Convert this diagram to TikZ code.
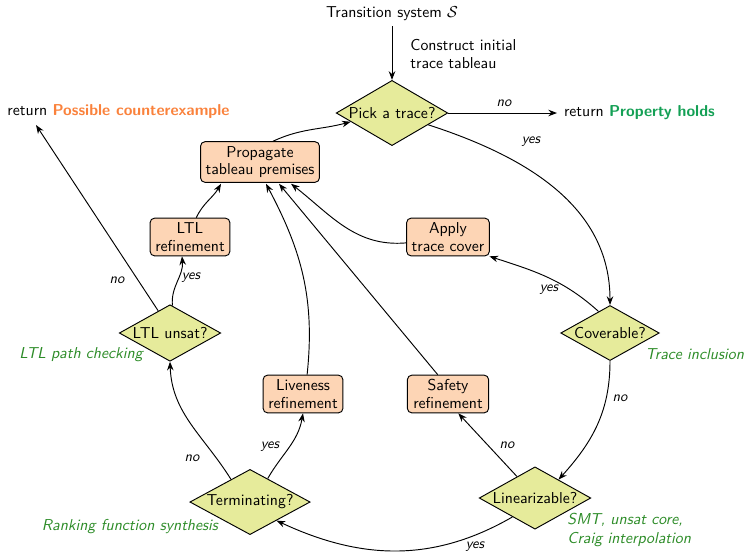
\documentclass[tikz,border=0pt]{standalone}
\usetikzlibrary{shapes.geometric,arrows.meta,calc}
\definecolor{peach}{RGB}{253,213,181}
\definecolor{lime}{RGB}{230,235,155}
\definecolor{holdgreen}{RGB}{20,160,85}
\definecolor{cexorange}{RGB}{250,130,60}
\definecolor{notegreen}{RGB}{45,140,40}
\begin{document}
\begin{tikzpicture}[x=0.69pt,y=0.69pt,
  font=\sffamily\fontsize{10.9}{12}\selectfont,
  >={Stealth[length=6pt,width=4.5pt]},
  every path/.style={line width=0.65pt},
  box/.style={draw,fill=peach,rounded corners=3pt,align=center,inner sep=1pt,line width=0.65pt},
  decision/.style={draw,fill=lime,diamond,aspect=1.8,inner sep=0pt,line width=0.65pt},
  lab/.style={font=\sffamily\fontsize{10}{12}\selectfont\itshape},
  note/.style={font=\sffamily\fontsize{10.9}{13}\selectfont\itshape,text=notegreen},
  conn/.style={->,line width=0.65pt}]
\useasboundingbox (0,0) rectangle (744,-553);

% nodes
\node (ts) at (392,-14) {Transition system $\mathcal{S}$};
\node[anchor=west,align=left,inner sep=0pt] (cons) at (410,-54) {Construct initial\\trace tableau};
\node[decision,minimum width=77pt,minimum height=45pt] (pick) at (392,-113) {Pick a trace?};
\node[anchor=west,inner sep=4.5pt] (hold) at (557,-113) {return \textcolor{holdgreen}{\bfseries Property holds}};
\node[anchor=west,inner sep=0pt] (cex) at (7,-112) {return \textcolor{cexorange}{\bfseries Possible counterexample}};
\coordinate (cexend) at (36,-125);

\node[box,minimum width=82pt,minimum height=28pt] (prop) at (260,-162) {Propagate\\tableau premises};
\node[box,minimum width=55pt,minimum height=26pt] (ltlr) at (190,-237) {LTL\\refinement};
\node[box,minimum width=57pt,minimum height=26pt] (apply) at (448,-237) {Apply\\trace cover};
\node[box,minimum width=55pt,minimum height=26pt] (liv) at (303,-394) {Liveness\\refinement};
\node[box,minimum width=56pt,minimum height=26pt] (safe) at (448,-394) {Safety\\refinement};

\node[decision,minimum width=70pt,minimum height=39pt] (lu) at (170,-333) {LTL unsat?};
\node[decision,minimum width=68pt,minimum height=38pt] (cov) at (610,-333) {Coverable?};
\node[decision,minimum width=83pt,minimum height=45pt] (term) at (250,-502) {Terminating?};
\node[decision,minimum width=77pt,minimum height=43pt] (lin) at (535,-498) {Linearizable?};

\node[note] (n1) at (81,-355) {LTL path checking};
\node[note] (n2) at (130,-527) {Ranking function synthesis};
\node[note,anchor=west,inner sep=0pt] (n3) at (645,-354) {Trace inclusion};
\node[note,anchor=west,align=left,inner sep=0pt] (n4) at (567,-530) {SMT, unsat core,\\Craig interpolation};

% connectors
\draw[conn] (ts) -- (pick.north);
\draw[conn] (pick.east) -- (hold.west);
\node[lab] (l1) at (504,-103) {no};

\draw[conn] (prop.58) to[out=25,in=195] (pick.192);
\draw[conn] (pick.-18) to[out=-18,in=90] (cov.north);
\node[lab] (l2) at (531,-142) {yes};

\draw[conn] (ltlr.72) to[out=65,in=240] ($(prop.south)+(-39,-1)$);
\draw[conn] (lu.85) to[out=95,in=-85] ($(ltlr.south)+(-8,0)$);
\node[lab] (l3) at (191,-278) {yes};
\draw[conn] (lu.118) -- (cexend);
\node[lab] (l4) at (117,-280) {no};

\draw[conn] (liv.78) to[out=84,in=-62] ($(prop.south)+(6,-1)$);
\draw[conn] (safe.118) -- ($(prop.south)+(19,-1)$);
\draw[conn] (apply.188) to[out=185,in=-38] ($(prop.south)+(31,-1)$);

\draw[conn] (term.130) to[out=122,in=-88] (lu.south);
\node[lab] (l5) at (192,-458) {no};
\draw[conn] (term.53) to[out=60,in=-100] (liv.south);
\node[lab] (l6) at (270,-447) {yes};

\draw[conn] (cov.118) to[out=138,in=-18] (apply.-25);
\node[lab] (l7) at (549,-290) {yes};
\draw[conn] (cov.south) to[out=-90,in=48] (lin.38);
\node[lab] (l8) at (620,-398) {no};

\draw[conn] (lin.130) -- (safe.-62);
\node[lab] (l9) at (507,-445) {no};
\draw[conn] (lin.-140) to[out=-150,in=-25] (term.-35);
\node[lab] (l10) at (475,-547) {yes};
\end{tikzpicture}
\end{document}
